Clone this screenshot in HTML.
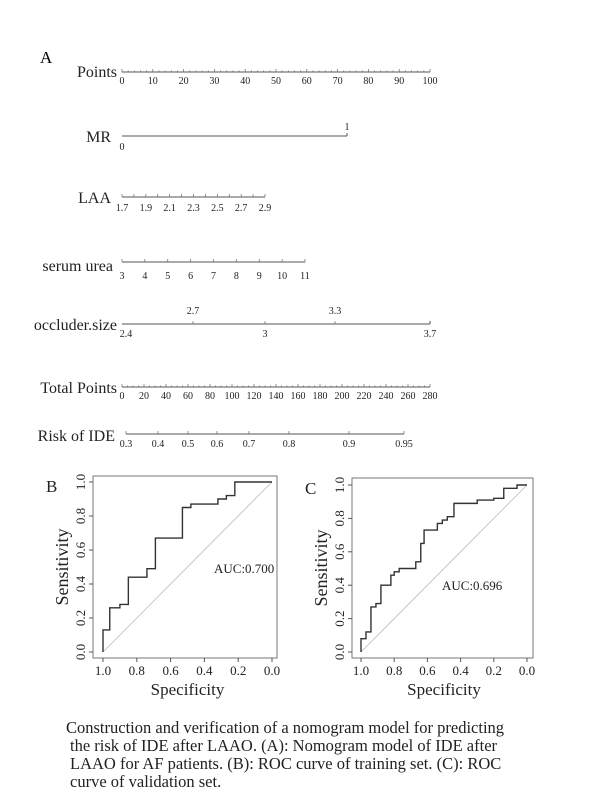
<!DOCTYPE html>
<html><head><meta charset="utf-8"><style>
body{margin:0;background:#fff;}
svg{display:block;font-family:"Liberation Serif",serif;}
</style></head><body>
<svg id="s" width="606" height="800" viewBox="0 0 606 800">
<rect width="606" height="800" fill="#fff"/>
<text x="40" y="63" font-size="17">A</text>
</svg>
<script>
const s=document.getElementById('s');const NS='http://www.w3.org/2000/svg';
function el(t,a,txt){const e=document.createElementNS(NS,t);for(const k in a)e.setAttribute(k,a[k]);if(txt!==undefined)e.textContent=txt;s.appendChild(e);return e;}
function line(x1,y1,x2,y2,c,w){el('line',{x1,y1,x2,y2,stroke:c||'#555','stroke-width':w||1});}
function txt(x,y,t,fs,anchor){el('text',{x,y,'font-size':fs,'text-anchor':anchor||'start',fill:'#222'},t);}
let L=122,R=430,TF=16,LF=10;
txt(117,77,'Points',TF,'end');line(L,72,R,72);
for(let i=0;i<=50;i++){let x=L+(R-L)*i/50;line(x,72,x,i%5==0?69:70.5,'#666',0.7);}
for(let i=0;i<=10;i++)txt(L+(R-L)*i/10,84,String(i*10),LF,'middle');
txt(111,142,'MR',TF,'end');line(L,136,347,136);line(347,136,347,133);txt(347,130,'1',LF,'middle');txt(L,150,'0',LF,'middle');
txt(111,203,'LAA',TF,'end');line(L,197,265,197);
for(let i=0;i<=12;i++){let x=L+(265-L)*i/12;line(x,197,x,194,'#666',0.7);}
['1.7','1.9','2.1','2.3','2.5','2.7','2.9'].forEach((t,i)=>txt(L+(265-L)*i/6,211,t,LF,'middle'));
txt(113,271,'serum urea',TF,'end');line(L,262,305,262);
for(let i=0;i<=8;i++){let x=L+(305-L)*i/8;line(x,262,x,259,'#666',0.7);txt(x,279,String(i+3),LF,'middle');}
txt(117,330,'occluder.size',TF,'end');line(L,324,R,324);
[[193,'2.7',1],[265,'3',0],[335,'3.3',1]].forEach(a=>{line(a[0],324,a[0],321,'#666',0.7);txt(a[0],a[2]?314:337,a[1],LF,'middle');});
line(R,324,R,321);txt(R,337,'3.7',LF,'middle');txt(L+4,337,'2.4',LF,'middle');
txt(117,393,'Total Points',TF,'end');line(L,387,R,387);
for(let i=0;i<=56;i++){let x=L+(R-L)*i/56;line(x,387,x,i%4==0?384:385.5,'#666',0.7);}
for(let i=0;i<=14;i++)txt(L+(R-L)*i/14,399,String(i*20),LF,'middle');
txt(115,441,'Risk of IDE',TF,'end');line(126,434,404,434);
[[126,'0.3'],[158,'0.4'],[188,'0.5'],[217,'0.6'],[249,'0.7'],[289,'0.8'],[349,'0.9'],[404,'0.95']].forEach(a=>{line(a[0],434,a[0],431,'#666',0.7);txt(a[0],447,a[1],LF,'middle');});
function roc(bx1,bx2,by1,by2,x1,x0,y1,y0,pts,lab,auc,ax,ay){
 el('rect',{x:bx1,y:by1,width:bx2-bx1,height:by2-by1,fill:'none',stroke:'#777','stroke-width':1});
 const X=v=>x0+(x1-x0)*v,Y=v=>y0+(y1-y0)*v;
 line(X(1),Y(0),X(0),Y(1),'#bbb',0.8);
 let d='M'+X(1)+' '+Y(0);let cs=1;
 pts.forEach(p=>{d+=' L'+X(cs)+' '+Y(p[1])+' L'+X(p[0])+' '+Y(p[1]);cs=p[0];});
 el('path',{d,fill:'none',stroke:'#333','stroke-width':1.4});
 for(let i=0;i<=5;i++){let v=i/5,x=X(1-v);line(x,by2,x,by2+4,'#555');txt(x,by2+17,(1-v).toFixed(1),13,'middle');
   let y=Y(v);line(bx1,y,bx1-4,y,'#555');el('text',{x:bx1-8,y:y,'font-size':13,'text-anchor':'middle',transform:`rotate(-90 ${bx1-8} ${y})`,fill:'#222'},v.toFixed(1));}
 txt((x1+x0)/2,by2+37,'Specificity',17,'middle');
 let cx=bx1-25,cy=(by1+by2)/2;el('text',{x:cx,y:cy,'font-size':18,'text-anchor':'middle',transform:`rotate(-90 ${cx} ${cy})`,fill:'#222'},'Sensitivity');
 txt(bx1-47,by1+16,lab,17);
 txt(ax,ay,auc,13);
}
roc(93,277,476,658,103,272,482,652,[[0.96,0.13],[0.9,0.26],[0.85,0.28],[0.74,0.44],[0.69,0.49],[0.53,0.67],[0.48,0.85],[0.32,0.87],[0.27,0.9],[0.22,0.92],[0,1.0]],'B','AUC:0.700',214,573);
roc(352,533,478,658,361,527,485,652,[[0.97,0.08],[0.94,0.12],[0.91,0.27],[0.88,0.29],[0.82,0.4],[0.8,0.46],[0.77,0.48],[0.67,0.5],[0.64,0.54],[0.62,0.65],[0.54,0.73],[0.51,0.77],[0.48,0.79],[0.44,0.81],[0.3,0.89],[0.2,0.91],[0.14,0.92],[0.06,0.98],[0,1.0]],'C','AUC:0.696',442,590);
[['Construction and verification of a nomogram model for predicting',66,733],['the risk of IDE after LAAO. (A): Nomogram model of IDE after',70,751],['LAAO for AF patients. (B): ROC curve of training set. (C): ROC',70,769],['curve of validation set.',70,787]].forEach(a=>txt(a[1],a[2],a[0],16.5));
</script>
</body></html>
